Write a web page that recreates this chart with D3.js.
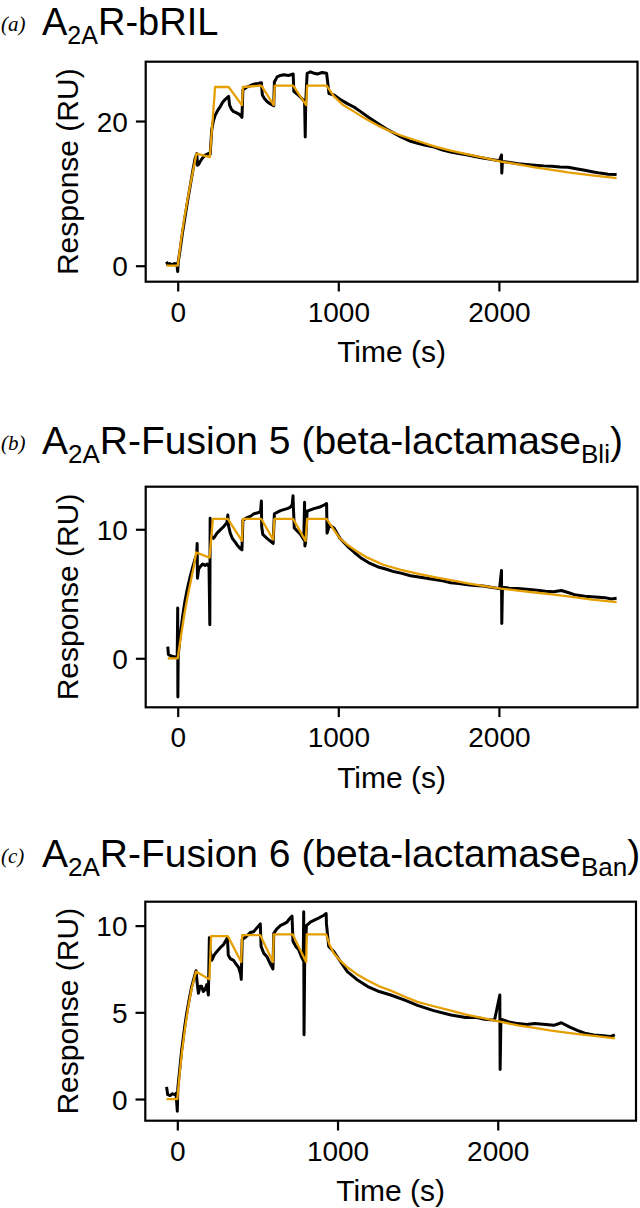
<!DOCTYPE html>
<html><head><meta charset="utf-8">
<script src="https://cdn.jsdelivr.net/npm/d3@7/dist/d3.min.js"></script>
<style>body{margin:0;background:#fff}svg{display:block}</style>
</head><body>
<svg id="chart" width="640" height="1208"></svg>
<script>
// ---------- data ----------
const timeTicks = [0, 1000, 2000];
const aYTicks = [0, 20];
const bYTicks = [0, 10];
const cYTicks = [0, 5, 10];
const panelLabels = ["(a)", "(b)", "(c)"];
const xLabel = "Time (s)";
const yLabel = "Response (RU)";
// title parts: [text, isSubscript]
const aTitle = [["A", 0], ["2A", 1], ["R-bRIL", 0]];
const bTitle = [["A", 0], ["2A", 1], ["R-Fusion 5 (beta-lactamase", 0], ["Bli", 1], [")", 0]];
const cTitle = [["A", 0], ["2A", 1], ["R-Fusion 6 (beta-lactamase", 0], ["Ban", 1], [")", 0]];

// measured response [time s, RU]
const aResponse = [[-70,0.55],[-62,0.2],[-50,0.3],[-35,0.15],[-20,0.3],[-5,0.2],[0,-0.8],[3,0.5],[15,2.2],[30,4.6],[46,6.8],[62,9.0],[77,10.9],[92,12.9],[108,14.8],[119,15.5],[123,13.9],[130,14.0],[140,14.4],[155,14.9],[171,15.3],[190,15.5],[202,15.4],[212,18.8],[222,20.0],[233,20.8],[250,21.5],[265,22.0],[280,22.6],[296,23.0],[317,23.4],[323,22.2],[335,21.6],[348,21.3],[360,21.2],[379,21.0],[390,20.8],[400,20.5],[406,24.3],[418,24.5],[431,24.7],[452,24.9],[473,25.1],[500,25.2],[521,25.3],[527,23.6],[540,23.1],[556,22.7],[575,22.4],[598,22.1],[602,25.4],[619,26.1],[640,26.3],[660,26.4],[690,26.3],[719,26.5],[723,24.1],[745,23.7],[765,23.3],[790,22.7],[794,17.8],[797,22.6],[806,26.6],[827,26.8],[850,26.6],[869,26.5],[900,26.7],[927,26.6],[942,23.8],[973,23.6],[1010,23.0],[1056,22.4],[1100,21.9],[1139,21.3],[1190,20.5],[1244,19.7],[1300,18.9],[1350,18.3],[1390,17.8],[1450,17.2],[1500,16.9],[1550,16.6],[1598,16.4],[1650,16.0],[1700,15.7],[1750,15.5],[1806,15.3],[1850,15.1],[1900,14.9],[1950,14.7],[2004,14.5],[2016,15.3],[2018,12.8],[2022,14.4],[2060,14.3],[2120,14.1],[2170,14.0],[2223,13.9],[2280,13.8],[2330,13.75],[2380,13.65],[2431,13.6],[2480,13.4],[2535,13.2],[2580,13.0],[2630,12.8],[2680,12.65],[2733,12.6]];
const aFit = [[-70,0],[0,0],[20,3.4],[40,6.4],[60,9.0],[80,11.4],[100,13.6],[117,15.5],[200,15.0],[233,24.7],[317,24.7],[400,22.2],[406,24.7],[521,24.9],[598,22.2],[604,24.9],[719,24.9],[800,22.2],[806,24.9],[927,24.9],[973,23.4],[1030,22.2],[1098,21.3],[1170,20.3],[1244,19.4],[1320,18.6],[1390,18.0],[1500,17.2],[1598,16.5],[1700,15.9],[1806,15.4],[1910,14.9],[2014,14.4],[2120,14.0],[2223,13.6],[2330,13.25],[2431,12.9],[2580,12.5],[2733,12.1]];

const bResponse = [[-62,0.9],[-58,0.3],[-45,0.2],[-30,0.15],[-15,0.1],[-3,0.15],[0,3.9],[1,-3.0],[3,0.2],[15,1.7],[30,3.2],[46,4.5],[62,5.5],[77,6.3],[92,7.0],[108,7.7],[118,8.0],[121,8.9],[123,6.2],[130,6.9],[140,7.1],[155,7.3],[171,7.2],[185,7.3],[195,7.1],[200,2.6],[202,10.85],[206,9.5],[223,9.3],[245,9.7],[265,9.95],[285,10.2],[306,10.5],[312,11.1],[316,10.3],[327,9.7],[340,9.3],[358,9.0],[375,8.7],[390,8.5],[400,8.4],[406,10.7],[430,10.9],[452,11.0],[475,11.2],[504,11.3],[516,11.4],[521,12.2],[523,10.2],[530,9.6],[556,9.3],[575,9.1],[594,8.9],[602,11.2],[640,11.45],[681,11.6],[700,11.7],[713,11.9],[718,12.6],[721,11.5],[726,10.1],[765,9.6],[785,9.2],[790,12.1],[792,8.7],[796,9.0],[806,11.4],[848,11.6],[890,11.75],[915,11.9],[927,12.0],[930,9.7],[945,10.3],[973,10.1],[1010,9.3],[1056,8.7],[1100,8.2],[1139,7.8],[1190,7.4],[1244,7.1],[1300,6.9],[1350,6.7],[1390,6.6],[1450,6.4],[1500,6.3],[1550,6.2],[1598,6.1],[1650,6.0],[1700,5.85],[1750,5.8],[1806,5.7],[1850,5.65],[1900,5.6],[1950,5.5],[2004,5.4],[2016,6.8],[2018,2.7],[2022,5.5],[2060,5.45],[2119,5.4],[2170,5.35],[2223,5.3],[2290,5.2],[2340,5.15],[2389,5.25],[2430,5.1],[2480,4.9],[2535,4.8],[2600,4.75],[2660,4.7],[2700,4.6],[2733,4.65]];
const bFit = [[-62,0],[0,0],[20,1.7],[40,3.3],[60,4.7],[80,5.9],[100,7.1],[115,8.2],[198,7.8],[219,10.8],[312,10.8],[400,9.1],[406,10.8],[521,10.8],[594,9.2],[602,10.8],[719,10.8],[796,9.1],[806,10.8],[927,10.8],[973,9.95],[1010,9.3],[1056,8.8],[1120,8.25],[1181,7.8],[1280,7.25],[1390,6.85],[1500,6.55],[1598,6.3],[1700,6.05],[1806,5.8],[1910,5.6],[2014,5.4],[2120,5.25],[2223,5.1],[2330,4.95],[2431,4.8],[2580,4.55],[2733,4.35]];

const cResponse = [[-67,0.7],[-60,0.25],[-45,0.2],[-30,0.3],[-15,0.25],[-8,0.33],[0,-0.7],[3,0.6],[17,1.9],[27,2.8],[38,3.6],[48,4.3],[58,4.9],[75,5.8],[90,6.5],[105,7.0],[117,7.4],[125,6.6],[132,6.1],[142,6.5],[152,6.5],[162,6.2],[173,6.3],[184,6.6],[194,6.0],[200,9.3],[205,8.6],[215,8.0],[230,8.3],[246,8.5],[265,8.7],[288,8.9],[300,9.1],[313,9.3],[318,8.3],[330,8.1],[351,8.0],[365,7.8],[382,7.6],[395,7.2],[399,6.9],[405,9.2],[420,9.3],[434,9.4],[455,9.6],[476,9.65],[500,9.9],[518,10.1],[523,8.8],[540,8.4],[560,8.2],[580,7.8],[597,7.5],[602,9.55],[620,9.8],[643,10.0],[665,10.1],[685,10.2],[700,10.4],[716,10.55],[722,9.1],[740,8.8],[758,8.6],[775,8.2],[786,8.0],[789,10.8],[791,3.7],[795,8.0],[806,10.0],[830,10.2],[852,10.3],[875,10.4],[894,10.5],[915,10.6],[929,10.7],[931,10.1],[945,8.8],[977,8.5],[1020,7.9],[1061,7.35],[1120,6.9],[1186,6.5],[1260,6.2],[1332,6.0],[1420,5.7],[1499,5.4],[1600,5.1],[1708,4.85],[1800,4.7],[1870,4.7],[1917,4.6],[1980,4.55],[2013,6.0],[2015,1.7],[2020,4.6],[2070,4.45],[2126,4.35],[2180,4.3],[2230,4.35],[2300,4.3],[2350,4.25],[2397,4.4],[2450,4.15],[2500,3.95],[2543,3.8],[2600,3.7],[2660,3.65],[2700,3.6],[2731,3.7]];
const cFit = [[-67,0],[0,0],[15,1.5],[30,2.8],[50,4.2],[70,5.4],[90,6.4],[117,7.35],[200,6.9],[211,9.4],[315,9.4],[399,7.9],[405,9.45],[518,9.45],[597,7.9],[602,9.5],[720,9.5],[804,7.9],[808,9.5],[929,9.5],[950,8.9],[977,8.4],[1020,7.95],[1061,7.6],[1120,7.2],[1186,6.85],[1260,6.5],[1332,6.25],[1420,5.9],[1499,5.6],[1600,5.35],[1708,5.1],[1810,4.85],[1917,4.65],[2020,4.45],[2126,4.25],[2230,4.1],[2334,3.95],[2440,3.82],[2543,3.7],[2640,3.6],[2731,3.5]];

// ---------- layout ----------
const svg = d3.select("#chart");
const SANS = "'Liberation Sans', Arial, Helvetica, sans-serif";
const ORANGE = "#E69F00";

const panels = [
  {label: panelLabels[0], title: aTitle, titleY: 35, titleSize: 38, box: [145.7, 61.7, 637.5, 281.7], xd: [-199.3, 2863], yd: [-2.21, 28.2], yt: aYTicks, resp: aResponse, fit: aFit},
  {label: panelLabels[1], title: bTitle, titleY: 454, titleSize: 39, box: [145.7, 486.7, 637.5, 707.3], xd: [-199.3, 2863], yd: [-3.80, 13.30], yt: bYTicks, resp: bResponse, fit: bFit},
  {label: panelLabels[2], title: cTitle, titleY: 867, titleSize: 39, box: [145.3, 901.7, 636.0, 1120.7], xd: [-199.8, 2863], yd: [-1.25, 11.38], yt: cYTicks, resp: cResponse, fit: cFit}
];

panels.forEach(p => {
  const [x0, y0, x1, y1] = p.box;
  const x = d3.scaleLinear().domain(p.xd).range([x0, x1]);
  const y = d3.scaleLinear().domain(p.yd).range([y1, y0]);

  // panel label
  svg.append("text").attr("x", 1).attr("y", p.titleY - 4)
    .attr("font-family", "'Liberation Serif', 'Times New Roman', serif")
    .attr("font-style", "italic").attr("font-size", 21).text(p.label);

  // title
  const fs = p.titleSize, ss = Math.round(fs * 0.67);
  const t = svg.append("text").attr("x", 42).attr("y", p.titleY)
    .attr("font-family", SANS).attr("font-size", fs);
  let prevSub = 0;
  p.title.forEach(([txt, sub]) => {
    const ts = t.append("tspan").text(txt).attr("font-size", sub ? ss : fs);
    const dy = (sub ? 9 : 0) - (prevSub ? 9 : 0);
    if (dy) ts.attr("dy", dy);
    prevSub = sub;
  });

  const g = svg.append("g");
  const clipId = "clip" + p.label.replace(/\W/g, "");
  svg.append("clipPath").attr("id", clipId).append("rect")
    .attr("x", x0).attr("y", y0).attr("width", x1 - x0).attr("height", y1 - y0);

  const line = d3.line().x(d => x(d[0])).y(d => y(d[1]));
  g.append("path").datum(p.resp).attr("clip-path", `url(#${clipId})`)
    .attr("d", line).attr("fill", "none").attr("stroke", "#000")
    .attr("stroke-width", 3).attr("stroke-linejoin", "round");
  g.append("path").datum(p.fit).attr("clip-path", `url(#${clipId})`)
    .attr("d", line).attr("fill", "none").attr("stroke", ORANGE)
    .attr("stroke-width", 2.3).attr("stroke-linejoin", "round");

  // frame
  svg.append("rect").attr("x", x0).attr("y", y0).attr("width", x1 - x0).attr("height", y1 - y0)
    .attr("fill", "none").attr("stroke", "#000").attr("stroke-width", 2.2);

  // axes
  const xa = svg.append("g").attr("transform", `translate(0,${y1})`)
    .call(d3.axisBottom(x).tickValues(timeTicks).tickSize(9.8).tickPadding(8).tickFormat(d3.format("d")));
  const ya = svg.append("g").attr("transform", `translate(${x0},0)`)
    .call(d3.axisLeft(y).tickValues(p.yt).tickSize(9.8).tickPadding(8).tickFormat(d3.format("d")));
  [xa, ya].forEach(a => {
    a.select(".domain").remove();
    a.selectAll(".tick line").attr("stroke", "#000").attr("stroke-width", 2.2);
    a.selectAll(".tick text").attr("font-family", SANS).attr("font-size", 28).attr("fill", "#000");
  });
  xa.selectAll(".tick text").attr("dy", null).attr("y", 40);
  ya.selectAll(".tick text").attr("dy", "0.36em");

  // axis labels
  svg.append("text").attr("x", (x0 + x1) / 2).attr("y", y1 + 80.3)
    .attr("text-anchor", "middle").attr("font-family", SANS).attr("font-size", 30).text(xLabel);
  svg.append("text").attr("transform", `translate(78,${(y0 + y1) / 2}) rotate(-90)`)
    .attr("text-anchor", "middle").attr("font-family", SANS).attr("font-size", 30).text(yLabel);
});
</script>
</body></html>
